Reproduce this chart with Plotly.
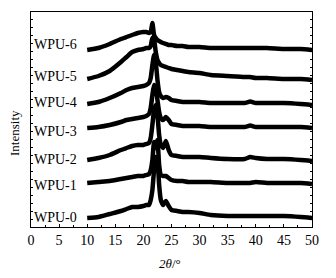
import plotly.graph_objects as go

# 2theta grid (degrees)
two_theta = [10, 12, 14, 16, 17, 18, 19, 20, 20.5, 21, 21.3, 21.6, 21.9, 22.2, 22.5, 22.8,
             23.1, 23.5, 24, 24.5, 25, 26, 27, 28, 30, 32, 35, 38, 39, 40, 42, 45, 48, 50]

# stacked (offset) intensities, arbitrary units
wpu0 = [9, 10, 13, 16, 18, 20, 20, 21, 22, 22, 27, 37, 57, 70, 67, 42, 27, 22, 26, 21, 17, 16,
        15, 15, 14, 12, 11, 11, 11, 11, 11, 11, 10, 9]
wpu1 = [44, 45, 46, 48, 49, 50, 51, 51, 52, 53, 57, 67, 85, 79, 87, 62, 52, 51, 51, 49, 47, 46,
        46, 45, 45, 45, 44, 44, 44, 45, 44, 44, 44, 43]
wpu2 = [67, 69, 72, 77, 79, 81, 82, 82, 83, 84, 89, 102, 117, 122, 112, 92, 82, 79, 86, 77, 72,
        71, 70, 70, 70, 69, 68, 68, 70, 69, 68, 68, 67, 66]
wpu3 = [99, 100, 102, 105, 107, 108, 109, 110, 111, 113, 119, 132, 142, 139, 127, 115, 109, 107,
        110, 107, 103, 102, 101, 101, 101, 100, 100, 100, 101.5, 100, 100, 100, 100, 99]
wpu4 = [123, 125, 129, 134, 137, 139, 140, 141, 142, 144, 149, 162, 172, 165, 147, 135, 131, 129,
        130, 129, 127, 126, 125, 125, 125, 124, 124, 124, 125.5, 124, 124, 124, 123, 122]
wpu5 = [148, 151, 156, 165, 170, 175, 177, 178, 179, 179, 181, 189, 187, 175, 167, 164, 162, 161,
        160, 159, 158, 157, 156, 155, 154, 152, 151, 150, 150, 149, 149, 148, 148, 147]
wpu6 = [177, 179, 183, 188, 190, 192, 194, 195, 195, 194, 195, 204, 192, 189, 187, 186, 185, 184,
        183, 182, 182, 181, 181, 180, 180, 179, 179, 179, 179, 179, 179, 178, 178, 177]

series_names = ["WPU-0", "WPU-1", "WPU-2", "WPU-3", "WPU-4", "WPU-5", "WPU-6"]
series_values = [wpu0, wpu1, wpu2, wpu3, wpu4, wpu5, wpu6]
label_y = [10, 42, 68, 96, 125, 151, 183]

serif = "Liberation Serif"
L, R, T, B = 23, 32, 4, 59
PW, PH = 336 - L - R, 278 - T - B

fig = go.Figure()
for name, vals in zip(series_names, series_values):
    fig.add_trace(go.Scatter(x=two_theta, y=vals, mode="lines", name=name,
                             line=dict(color="black", width=4.5, shape="spline", smoothing=0.5),
                             showlegend=False))

for name, ly in zip(series_names, label_y):
    fig.add_annotation(x=0.2, y=ly, text=name, showarrow=False, xanchor="left", yanchor="middle",
                       font=dict(family=serif, size=14, color="black"))

fig.add_annotation(xref="paper", yref="paper", x=(162 - L) / PW, y=-(255 - (T + PH)) / PH,
                   text="<i>2θ</i>/°", showarrow=False, xanchor="center", yanchor="middle",
                   font=dict(family=serif, size=13, color="black"))
fig.add_annotation(xref="paper", yref="paper", x=-(L - 6) / PW, y=((T + PH) - 125) / PH,
                   text="Intensity", textangle=-90, showarrow=False, xanchor="center",
                   yanchor="middle", font=dict(family=serif, size=13, color="black"))

fig.update_layout(
    width=336, height=278,
    margin=dict(l=L, r=R, t=T, b=B, autoexpand=False),
    paper_bgcolor="white", plot_bgcolor="white",
    font=dict(family=serif, size=13, color="black"),
    xaxis=dict(range=[0, 50], tickmode="linear", tick0=0, dtick=5, automargin=False,
               ticks="inside", ticklen=3, tickcolor="black",
               minor=dict(ticks="inside", ticklen=2, dtick=2.5, tickcolor="black"),
               showline=True, linecolor="black", linewidth=1.2, mirror=True,
               showgrid=False, zeroline=False,
               tickfont=dict(family=serif, size=14, color="black")),
    yaxis=dict(range=[0, 215], tickmode="linear", tick0=0, dtick=8, automargin=False,
               ticks="inside", ticklen=2, tickcolor="black", showticklabels=False,
               showline=True, linecolor="black", linewidth=1.2, mirror="allticks",
               showgrid=False, zeroline=False),
)

fig.write_html("out.html")
